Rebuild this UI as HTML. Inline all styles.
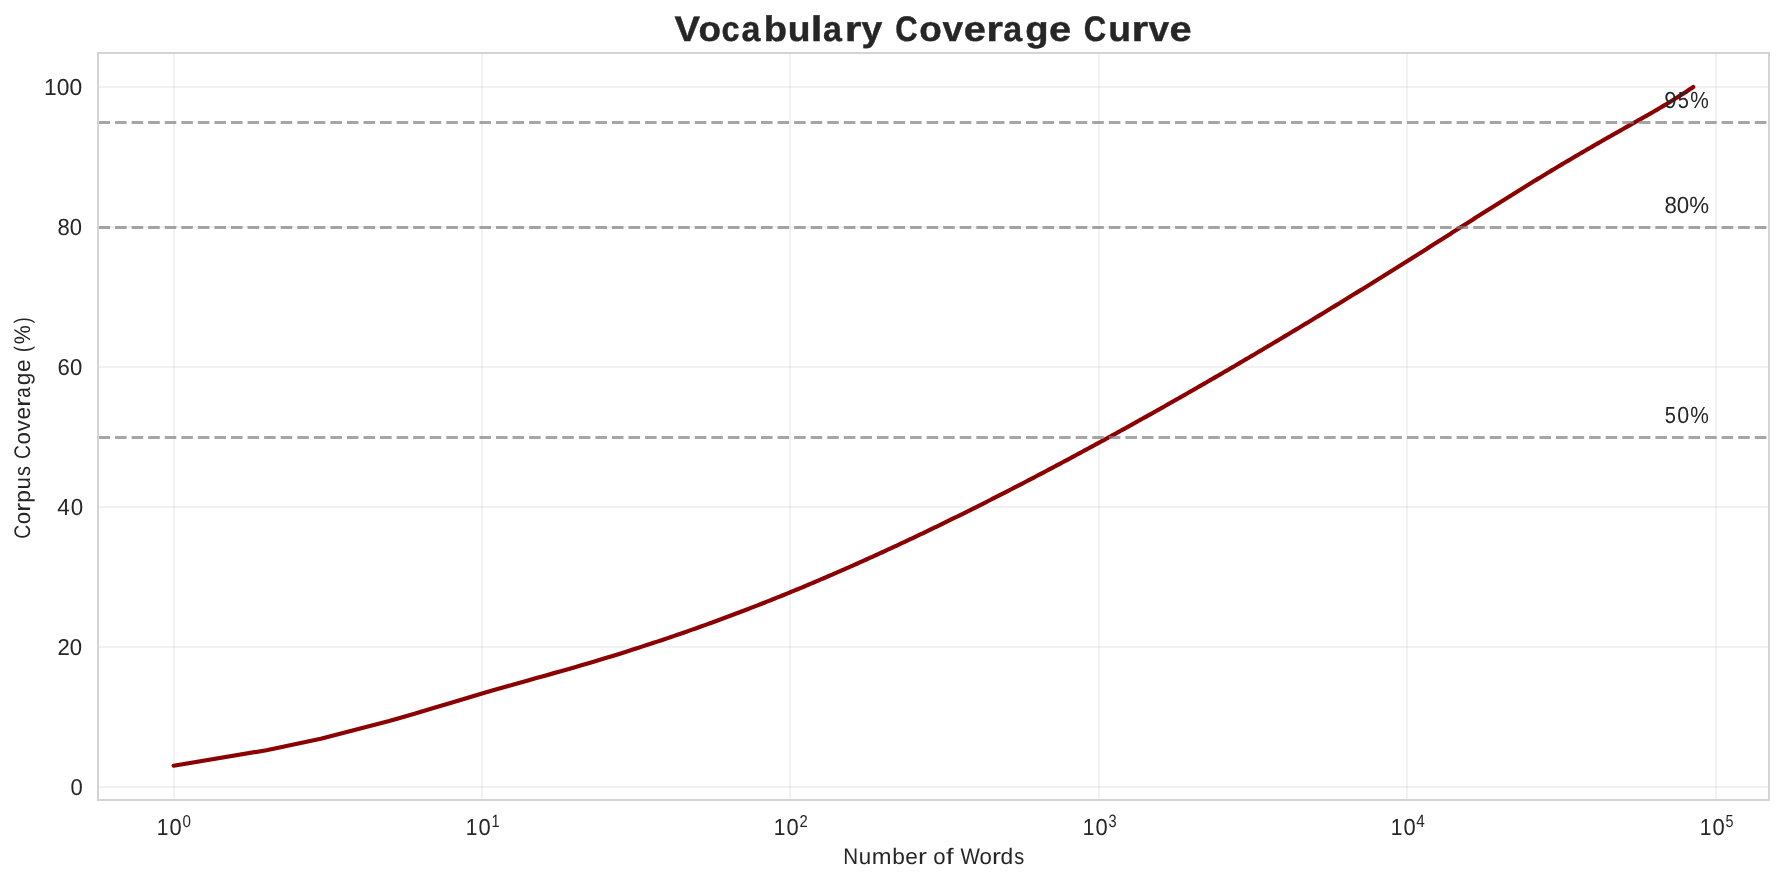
<!DOCTYPE html>
<html><head><meta charset="utf-8"><title>Vocabulary Coverage Curve</title>
<style>
html,body{margin:0;padding:0;background:#fff;}
body{width:1784px;height:883px;overflow:hidden;}
svg{display:block;will-change:transform;}
text{font-family:"Liberation Sans",sans-serif;fill:#262626;text-rendering:geometricPrecision;}
</style></head>
<body>
<svg width="1784" height="883" viewBox="0 0 1784 883">
<rect width="1784" height="883" fill="#fff"/>
<rect x="173" y="53" width="2" height="747" fill="#cccccc" fill-opacity="0.255"/>
<rect x="481" y="53" width="2" height="747" fill="#cccccc" fill-opacity="0.255"/>
<rect x="789" y="53" width="2" height="747" fill="#cccccc" fill-opacity="0.255"/>
<rect x="1098" y="53" width="2" height="747" fill="#cccccc" fill-opacity="0.255"/>
<rect x="1406" y="53" width="2" height="747" fill="#cccccc" fill-opacity="0.255"/>
<rect x="1715" y="53" width="2" height="747" fill="#cccccc" fill-opacity="0.255"/>
<rect x="98" y="86" width="1671" height="2" fill="#cccccc" fill-opacity="0.255"/>
<rect x="98" y="226" width="1671" height="2" fill="#cccccc" fill-opacity="0.255"/>
<rect x="98" y="366" width="1671" height="2" fill="#cccccc" fill-opacity="0.255"/>
<rect x="98" y="506" width="1671" height="2" fill="#cccccc" fill-opacity="0.255"/>
<rect x="98" y="646" width="1671" height="2" fill="#cccccc" fill-opacity="0.255"/>
<rect x="98" y="786" width="1671" height="2" fill="#cccccc" fill-opacity="0.255"/>
<path d="M173.64 765.70 L266.48 750.20 L320.78 738.80 L359.31 728.70 L389.21 720.93 L413.63 713.97 L434.27 707.85 L452.16 702.47 L467.93 697.74 L482.04 693.56 L494.81 689.85 L506.46 686.52 L517.19 683.48 L527.11 680.69 L536.35 678.09 L545.00 675.66 L553.12 673.37 L560.77 671.20 L568.01 669.13 L574.88 667.15 L581.42 665.26 L587.65 663.43 L593.60 661.67 L599.30 659.97 L604.77 658.32 L610.02 656.71 L615.08 655.16 L619.95 653.64 L624.65 652.17 L629.19 650.74 L633.58 649.34 L637.83 647.97 L641.95 646.64 L645.95 645.34 L649.84 644.07 L653.61 642.82 L657.28 641.61 L660.85 640.41 L664.33 639.24 L667.72 638.10 L671.03 636.97 L674.25 635.87 L677.41 634.79 L680.49 633.73 L683.50 632.68 L686.44 631.66 L689.32 630.65 L692.14 629.65 L694.90 628.68 L697.61 627.72 L700.26 626.77 L702.26 626.06 L704.26 625.34 L706.26 624.62 L708.26 623.89 L710.26 623.17 L712.26 622.44 L714.26 621.71 L716.26 620.98 L718.26 620.25 L720.26 619.51 L722.26 618.77 L724.26 618.03 L726.26 617.29 L728.26 616.54 L730.26 615.79 L732.26 615.04 L734.26 614.29 L736.26 613.53 L738.26 612.77 L740.26 612.02 L742.26 611.25 L744.26 610.49 L746.26 609.72 L748.26 608.95 L750.26 608.18 L752.26 607.41 L754.26 606.63 L756.26 605.85 L758.26 605.07 L760.26 604.29 L762.26 603.50 L764.26 602.72 L766.26 601.92 L768.26 601.13 L770.26 600.34 L772.26 599.54 L774.26 598.74 L776.26 597.94 L778.26 597.13 L780.26 596.33 L782.26 595.52 L784.26 594.71 L786.26 593.89 L788.26 593.08 L790.26 592.26 L792.26 591.44 L794.26 590.62 L796.26 589.79 L798.26 588.96 L800.26 588.13 L802.26 587.30 L804.26 586.47 L806.26 585.63 L808.26 584.79 L810.26 583.95 L812.26 583.11 L814.26 582.26 L816.26 581.41 L818.26 580.57 L820.26 579.71 L822.26 578.86 L824.26 578.00 L826.26 577.14 L828.26 576.28 L830.26 575.42 L832.26 574.55 L834.26 573.69 L836.26 572.82 L838.26 571.95 L840.26 571.07 L842.26 570.20 L844.26 569.32 L846.26 568.44 L848.26 567.56 L850.26 566.67 L852.26 565.79 L854.26 564.90 L856.26 564.01 L858.26 563.12 L860.26 562.22 L862.26 561.32 L864.26 560.43 L866.26 559.52 L868.26 558.62 L870.26 557.72 L872.26 556.81 L874.26 555.90 L876.26 554.99 L878.26 554.08 L880.26 553.16 L882.26 552.25 L884.26 551.33 L886.26 550.41 L888.26 549.48 L890.26 548.56 L892.26 547.63 L894.26 546.70 L896.26 545.77 L898.26 544.84 L900.26 543.91 L902.26 542.97 L904.26 542.03 L906.26 541.09 L908.26 540.15 L910.26 539.21 L912.26 538.26 L914.26 537.31 L916.26 536.36 L918.26 535.41 L920.26 534.46 L922.26 533.51 L924.26 532.55 L926.26 531.59 L928.26 530.63 L930.26 529.67 L932.26 528.70 L934.26 527.74 L936.26 526.77 L938.26 525.80 L940.26 524.83 L942.26 523.86 L944.26 522.88 L946.26 521.90 L948.26 520.93 L950.26 519.95 L952.26 518.96 L954.26 517.98 L956.26 517.00 L958.26 516.01 L960.26 515.02 L962.26 514.03 L964.26 513.04 L966.26 512.04 L968.26 511.05 L970.26 510.05 L972.26 509.05 L974.26 508.05 L976.26 507.05 L978.26 506.05 L980.26 505.04 L982.26 504.03 L984.26 503.03 L986.26 502.02 L988.26 501.00 L990.26 499.99 L992.26 498.98 L994.26 497.96 L996.26 496.94 L998.26 495.92 L1000.26 494.90 L1002.26 493.88 L1004.26 492.85 L1006.26 491.83 L1008.26 490.80 L1010.26 489.77 L1012.26 488.74 L1014.26 487.71 L1016.26 486.67 L1018.26 485.64 L1020.26 484.60 L1022.26 483.56 L1024.26 482.52 L1026.26 481.48 L1028.26 480.44 L1030.26 479.40 L1032.26 478.35 L1034.26 477.30 L1036.26 476.26 L1038.26 475.21 L1040.26 474.16 L1042.26 473.10 L1044.26 472.05 L1046.26 470.99 L1048.26 469.94 L1050.26 468.88 L1052.26 467.82 L1054.26 466.76 L1056.26 465.70 L1058.26 464.63 L1060.26 463.57 L1062.26 462.50 L1064.26 461.43 L1066.26 460.36 L1068.26 459.29 L1070.26 458.22 L1072.26 457.15 L1074.26 456.07 L1076.26 455.00 L1078.26 453.92 L1080.26 452.84 L1082.26 451.76 L1084.26 450.68 L1086.26 449.60 L1088.26 448.52 L1090.26 447.43 L1092.26 446.35 L1094.26 445.26 L1096.26 444.17 L1098.26 443.08 L1100.26 441.99 L1102.26 440.90 L1104.26 439.81 L1106.26 438.71 L1108.26 437.62 L1110.26 436.52 L1112.26 435.42 L1114.26 434.32 L1116.26 433.22 L1118.26 432.12 L1120.26 431.02 L1122.26 429.91 L1124.26 428.81 L1126.26 427.70 L1128.26 426.59 L1130.26 425.48 L1132.26 424.37 L1134.26 423.26 L1136.26 422.15 L1138.26 421.03 L1140.26 419.92 L1142.26 418.80 L1144.26 417.68 L1146.26 416.56 L1148.26 415.44 L1150.26 414.32 L1152.26 413.20 L1154.26 412.08 L1156.26 410.95 L1158.26 409.83 L1160.26 408.70 L1162.26 407.57 L1164.26 406.44 L1166.26 405.31 L1168.26 404.18 L1170.26 403.05 L1172.26 401.91 L1174.26 400.78 L1176.26 399.64 L1178.26 398.50 L1180.26 397.36 L1182.26 396.22 L1184.26 395.08 L1186.26 393.94 L1188.26 392.80 L1190.26 391.65 L1192.26 390.51 L1194.26 389.36 L1196.26 388.21 L1198.26 387.06 L1200.26 385.91 L1202.26 384.76 L1204.26 383.61 L1206.26 382.45 L1208.26 381.30 L1210.26 380.14 L1212.26 378.99 L1214.26 377.83 L1216.26 376.67 L1218.26 375.51 L1220.26 374.35 L1222.26 373.18 L1224.26 372.02 L1226.26 370.85 L1228.26 369.69 L1230.26 368.52 L1232.26 367.35 L1234.26 366.18 L1236.26 365.01 L1238.26 363.84 L1240.26 362.67 L1242.26 361.50 L1244.26 360.32 L1246.26 359.15 L1248.26 357.97 L1250.26 356.79 L1252.26 355.61 L1254.26 354.43 L1256.26 353.25 L1258.26 352.07 L1260.26 350.88 L1262.26 349.70 L1264.26 348.51 L1266.26 347.33 L1268.26 346.14 L1270.26 344.95 L1272.26 343.76 L1274.26 342.57 L1276.26 341.38 L1278.26 340.19 L1280.26 338.99 L1282.26 337.80 L1284.26 336.60 L1286.26 335.40 L1288.26 334.20 L1290.26 333.01 L1292.26 331.81 L1294.26 330.60 L1296.26 329.40 L1298.26 328.20 L1300.26 326.99 L1302.26 325.79 L1304.26 324.58 L1306.26 323.37 L1308.26 322.17 L1310.26 320.96 L1312.26 319.75 L1314.26 318.53 L1316.26 317.32 L1318.26 316.11 L1320.26 314.89 L1322.26 313.68 L1324.26 312.46 L1326.26 311.24 L1328.26 310.03 L1330.26 308.81 L1332.26 307.59 L1334.26 306.36 L1336.26 305.14 L1338.26 303.92 L1340.26 302.69 L1342.26 301.47 L1344.26 300.24 L1346.26 299.01 L1348.26 297.79 L1350.26 296.56 L1352.26 295.33 L1354.26 294.09 L1356.26 292.86 L1358.26 291.63 L1360.26 290.39 L1362.26 289.16 L1364.26 287.92 L1366.26 286.69 L1368.26 285.45 L1370.26 284.21 L1372.26 282.97 L1374.26 281.73 L1376.26 280.49 L1378.26 279.24 L1380.26 278.00 L1382.26 276.75 L1384.26 275.51 L1386.26 274.26 L1388.26 273.02 L1390.26 271.77 L1392.26 270.52 L1394.26 269.27 L1396.26 268.02 L1398.26 266.76 L1400.26 265.51 L1402.26 264.26 L1404.26 263.00 L1406.26 261.75 L1408.26 260.49 L1410.26 259.23 L1412.26 257.97 L1414.26 256.71 L1416.26 255.45 L1418.26 254.19 L1420.26 252.93 L1422.26 251.67 L1424.26 250.40 L1426.26 249.14 L1428.26 247.87 L1430.26 246.61 L1432.26 245.34 L1434.26 244.07 L1436.26 242.80 L1438.26 241.53 L1440.26 240.26 L1442.26 238.99 L1444.26 237.72 L1446.26 236.44 L1448.26 235.17 L1450.26 233.90 L1452.26 232.62 L1454.26 231.35 L1456.26 230.08 L1458.26 228.80 L1460.26 227.53 L1462.26 226.26 L1464.26 224.98 L1466.26 223.71 L1468.26 222.44 L1470.26 221.16 L1472.26 219.89 L1474.26 218.62 L1476.26 217.35 L1478.26 216.08 L1480.26 214.81 L1482.26 213.54 L1484.26 212.27 L1486.26 211.01 L1488.26 209.74 L1490.26 208.48 L1492.26 207.21 L1494.26 205.95 L1496.26 204.69 L1498.26 203.43 L1500.26 202.17 L1502.26 200.92 L1504.26 199.66 L1506.26 198.41 L1508.26 197.16 L1510.26 195.91 L1512.26 194.67 L1514.26 193.42 L1516.26 192.18 L1518.26 190.94 L1520.26 189.70 L1522.26 188.46 L1524.26 187.22 L1526.26 185.99 L1528.26 184.76 L1530.26 183.53 L1532.26 182.30 L1534.26 181.08 L1536.26 179.86 L1538.26 178.64 L1540.26 177.42 L1542.26 176.20 L1544.26 174.99 L1546.26 173.78 L1548.26 172.57 L1550.26 171.36 L1552.26 170.15 L1554.26 168.95 L1556.26 167.75 L1558.26 166.55 L1560.26 165.36 L1562.26 164.16 L1564.26 162.97 L1566.26 161.79 L1568.26 160.60 L1570.26 159.42 L1572.26 158.24 L1574.26 157.06 L1576.26 155.88 L1578.26 154.71 L1580.26 153.54 L1582.26 152.37 L1584.26 151.21 L1586.26 150.04 L1588.26 148.88 L1590.26 147.72 L1592.26 146.57 L1594.26 145.41 L1596.26 144.26 L1598.26 143.11 L1600.26 141.96 L1602.26 140.81 L1604.26 139.67 L1606.26 138.53 L1608.26 137.38 L1610.26 136.25 L1612.26 135.11 L1614.26 133.97 L1616.26 132.84 L1618.26 131.70 L1620.26 130.57 L1622.26 129.44 L1624.26 128.31 L1626.26 127.18 L1628.26 126.06 L1630.26 124.93 L1632.26 123.80 L1634.26 122.68 L1636.26 121.55 L1638.26 120.42 L1640.26 119.29 L1642.26 118.16 L1644.26 117.02 L1646.26 115.88 L1648.26 114.74 L1650.26 113.60 L1652.26 112.44 L1654.26 111.29 L1656.26 110.12 L1658.26 108.96 L1660.26 107.78 L1662.26 106.60 L1664.26 105.41 L1666.26 104.21 L1668.26 103.00 L1670.26 101.78 L1672.26 100.56 L1674.26 99.32 L1676.26 98.07 L1678.26 96.82 L1680.26 95.55 L1682.26 94.26 L1684.26 92.97 L1686.26 91.66 L1688.26 90.34 L1690.26 89.00 L1692.26 87.65 L1693.20 87.01" fill="none" stroke="#8b0000" stroke-width="4.1667" stroke-linecap="round" stroke-linejoin="round"/>
<line x1="98.5" y1="122.5" x2="1769.5" y2="122.5" stroke="#808080" stroke-opacity="0.7" stroke-width="3.125" stroke-dasharray="11.5625 5"/>
<line x1="98.5" y1="227.5" x2="1769.5" y2="227.5" stroke="#808080" stroke-opacity="0.7" stroke-width="3.125" stroke-dasharray="11.5625 5"/>
<line x1="98.5" y1="437.5" x2="1769.5" y2="437.5" stroke="#808080" stroke-opacity="0.7" stroke-width="3.125" stroke-dasharray="11.5625 5"/>
<rect x="97" y="52" width="2" height="749" fill="#d4d4d4"/>
<rect x="1768" y="52" width="2" height="749" fill="#d4d4d4"/>
<rect x="97" y="52" width="1673" height="2" fill="#d4d4d4"/>
<rect x="97" y="799" width="1673" height="2" fill="#d4d4d4"/>
<text font-size="35.489" font-weight="bold" stroke="#262626" stroke-width="0.4"><tspan x="674.43" y="40.58" textLength="25.52" lengthAdjust="spacingAndGlyphs">V</tspan><tspan x="698.40" y="40.58" textLength="22.55" lengthAdjust="spacingAndGlyphs">o</tspan><tspan x="721.41" y="40.58" textLength="18.01" lengthAdjust="spacingAndGlyphs">c</tspan><tspan x="741.44" y="40.58" textLength="18.90" lengthAdjust="spacingAndGlyphs">a</tspan><tspan x="763.80" y="40.58" textLength="23.31" lengthAdjust="spacingAndGlyphs">b</tspan><tspan x="787.73" y="40.58" textLength="22.77" lengthAdjust="spacingAndGlyphs">u</tspan><tspan x="810.86" y="40.58" textLength="11.65" lengthAdjust="spacingAndGlyphs">l</tspan><tspan x="822.91" y="40.58" textLength="18.90" lengthAdjust="spacingAndGlyphs">a</tspan><tspan x="844.89" y="40.58" textLength="16.78" lengthAdjust="spacingAndGlyphs">r</tspan><tspan x="861.57" y="40.58" textLength="20.82" lengthAdjust="spacingAndGlyphs">y</tspan> <tspan x="895.14" y="40.58" textLength="22.39" lengthAdjust="spacingAndGlyphs">C</tspan><tspan x="919.20" y="40.58" textLength="22.55" lengthAdjust="spacingAndGlyphs">o</tspan><tspan x="942.50" y="40.58" textLength="20.65" lengthAdjust="spacingAndGlyphs">v</tspan><tspan x="963.69" y="40.58" textLength="22.14" lengthAdjust="spacingAndGlyphs">e</tspan><tspan x="986.34" y="40.58" textLength="16.78" lengthAdjust="spacingAndGlyphs">r</tspan><tspan x="1003.23" y="40.58" textLength="18.90" lengthAdjust="spacingAndGlyphs">a</tspan><tspan x="1025.29" y="40.58" textLength="23.35" lengthAdjust="spacingAndGlyphs">g</tspan><tspan x="1049.04" y="40.58" textLength="22.14" lengthAdjust="spacingAndGlyphs">e</tspan> <tspan x="1083.82" y="40.58" textLength="22.39" lengthAdjust="spacingAndGlyphs">C</tspan><tspan x="1108.25" y="40.58" textLength="22.77" lengthAdjust="spacingAndGlyphs">u</tspan><tspan x="1131.54" y="40.58" textLength="16.78" lengthAdjust="spacingAndGlyphs">r</tspan><tspan x="1148.43" y="40.58" textLength="20.65" lengthAdjust="spacingAndGlyphs">v</tspan><tspan x="1169.62" y="40.58" textLength="22.14" lengthAdjust="spacingAndGlyphs">e</tspan></text>
<text x="29.86" y="538.82" transform="rotate(-90 29.86 538.82)" font-size="22.554"><tspan x="29.86" textLength="13.97" lengthAdjust="spacingAndGlyphs">C</tspan><tspan x="44.41" textLength="12.35" lengthAdjust="spacingAndGlyphs">o</tspan><tspan x="57.06" textLength="8.91" lengthAdjust="spacingAndGlyphs">r</tspan><tspan x="65.99" textLength="12.65" lengthAdjust="spacingAndGlyphs">p</tspan><tspan x="79.13" textLength="12.43" lengthAdjust="spacingAndGlyphs">u</tspan><tspan x="92.58" textLength="9.96" lengthAdjust="spacingAndGlyphs">s</tspan> <tspan x="109.59" textLength="13.97" lengthAdjust="spacingAndGlyphs">C</tspan><tspan x="124.14" textLength="12.35" lengthAdjust="spacingAndGlyphs">o</tspan><tspan x="137.24" textLength="11.26" lengthAdjust="spacingAndGlyphs">v</tspan><tspan x="149.22" textLength="12.59" lengthAdjust="spacingAndGlyphs">e</tspan><tspan x="162.03" textLength="8.91" lengthAdjust="spacingAndGlyphs">r</tspan><tspan x="171.01" textLength="10.42" lengthAdjust="spacingAndGlyphs">a</tspan><tspan x="183.47" textLength="12.67" lengthAdjust="spacingAndGlyphs">g</tspan><tspan x="196.71" textLength="12.59" lengthAdjust="spacingAndGlyphs">e</tspan> <tspan x="216.70" textLength="5.87" lengthAdjust="spacingAndGlyphs">(</tspan><tspan x="224.53" textLength="19.02" lengthAdjust="spacingAndGlyphs">%</tspan><tspan x="245.49" textLength="5.87" lengthAdjust="spacingAndGlyphs">)</tspan></text>
<text font-size="22.469"><tspan x="843.21" y="863.65" textLength="14.86" lengthAdjust="spacingAndGlyphs">N</tspan><tspan x="858.70" y="863.65" textLength="12.43" lengthAdjust="spacingAndGlyphs">u</tspan><tspan x="871.82" y="863.65" textLength="19.76" lengthAdjust="spacingAndGlyphs">m</tspan><tspan x="892.17" y="863.65" textLength="12.65" lengthAdjust="spacingAndGlyphs">b</tspan><tspan x="905.18" y="863.65" textLength="12.59" lengthAdjust="spacingAndGlyphs">e</tspan><tspan x="917.98" y="863.65" textLength="8.91" lengthAdjust="spacingAndGlyphs">r</tspan> <tspan x="933.33" y="863.65" textLength="12.35" lengthAdjust="spacingAndGlyphs">o</tspan><tspan x="945.99" y="863.65" textLength="7.60" lengthAdjust="spacingAndGlyphs">f</tspan> <tspan x="960.47" y="863.65" textLength="19.42" lengthAdjust="spacingAndGlyphs">W</tspan><tspan x="979.44" y="863.65" textLength="12.35" lengthAdjust="spacingAndGlyphs">o</tspan><tspan x="992.10" y="863.65" textLength="8.91" lengthAdjust="spacingAndGlyphs">r</tspan><tspan x="1000.41" y="863.65" textLength="12.67" lengthAdjust="spacingAndGlyphs">d</tspan><tspan x="1014.13" y="863.65" textLength="9.96" lengthAdjust="spacingAndGlyphs">s</tspan></text>
<text font-size="23.147"><tspan x="44.12" y="94.81" textLength="38.10" lengthAdjust="spacingAndGlyphs">100</tspan></text>
<text font-size="23.365"><tspan x="57.43" y="234.72" textLength="24.52" lengthAdjust="spacingAndGlyphs">80</tspan></text>
<text font-size="23.013"><tspan x="57.60" y="374.78" textLength="24.60" lengthAdjust="spacingAndGlyphs">60</tspan></text>
<text font-size="23.393"><tspan x="57.37" y="514.80" textLength="12.51" lengthAdjust="spacingAndGlyphs">4</tspan><tspan x="70.63" y="514.80" textLength="12.45" lengthAdjust="spacingAndGlyphs">0</tspan></text>
<text font-size="22.975"><tspan x="57.43" y="654.97" textLength="24.65" lengthAdjust="spacingAndGlyphs">20</tspan></text>
<text font-size="23.023"><tspan x="70.59" y="794.82" textLength="12.24" lengthAdjust="spacingAndGlyphs">0</tspan></text>
<text font-size="23.280"><tspan x="156.67" y="835.06" textLength="11.67" lengthAdjust="spacingAndGlyphs">1</tspan><tspan x="169.57" y="835.06" textLength="12.19" lengthAdjust="spacingAndGlyphs">0</tspan><tspan x="182.46" y="826.74" font-size="17.246" textLength="8.45" lengthAdjust="spacingAndGlyphs">0</tspan></text>
<text font-size="23.280"><tspan x="465.67" y="835.06" textLength="11.67" lengthAdjust="spacingAndGlyphs">1</tspan><tspan x="478.57" y="835.06" textLength="12.19" lengthAdjust="spacingAndGlyphs">0</tspan><tspan x="491.47" y="826.74" font-size="17.751" textLength="8.12" lengthAdjust="spacingAndGlyphs">1</tspan></text>
<text font-size="23.280"><tspan x="773.67" y="834.81" textLength="11.67" lengthAdjust="spacingAndGlyphs">1</tspan><tspan x="786.57" y="834.81" textLength="12.19" lengthAdjust="spacingAndGlyphs">0</tspan><tspan x="799.58" y="826.65" font-size="17.354" textLength="8.24" lengthAdjust="spacingAndGlyphs">2</tspan></text>
<text font-size="23.280"><tspan x="1082.67" y="835.06" textLength="11.67" lengthAdjust="spacingAndGlyphs">1</tspan><tspan x="1095.57" y="835.06" textLength="12.19" lengthAdjust="spacingAndGlyphs">0</tspan><tspan x="1108.50" y="826.63" font-size="17.891" textLength="8.14" lengthAdjust="spacingAndGlyphs">3</tspan></text>
<text font-size="23.280"><tspan x="1390.67" y="834.81" textLength="11.67" lengthAdjust="spacingAndGlyphs">1</tspan><tspan x="1403.57" y="834.81" textLength="12.19" lengthAdjust="spacingAndGlyphs">0</tspan><tspan x="1416.17" y="826.85" font-size="17.750" textLength="8.52" lengthAdjust="spacingAndGlyphs">4</tspan></text>
<text font-size="23.155"><tspan x="1699.67" y="834.81" textLength="11.67" lengthAdjust="spacingAndGlyphs">1</tspan><tspan x="1712.57" y="834.81" textLength="12.19" lengthAdjust="spacingAndGlyphs">0</tspan><tspan x="1725.39" y="827.02" font-size="17.472" textLength="8.00" lengthAdjust="spacingAndGlyphs">5</tspan></text>
<text font-size="23.321"><tspan x="1664.16" y="107.66" textLength="12.33" lengthAdjust="spacingAndGlyphs">9</tspan><tspan x="1677.68" y="107.66" textLength="11.15" lengthAdjust="spacingAndGlyphs">5</tspan><tspan x="1690.17" y="107.66" textLength="18.55" lengthAdjust="spacingAndGlyphs">%</tspan></text>
<text font-size="23.360"><tspan x="1664.41" y="212.67" textLength="44.57" lengthAdjust="spacingAndGlyphs">80%</tspan></text>
<text font-size="23.375"><tspan x="1664.72" y="422.65" textLength="11.16" lengthAdjust="spacingAndGlyphs">5</tspan><tspan x="1677.37" y="422.65" textLength="11.92" lengthAdjust="spacingAndGlyphs">0</tspan><tspan x="1690.14" y="422.65" textLength="18.56" lengthAdjust="spacingAndGlyphs">%</tspan></text>
</svg>
</body></html>
